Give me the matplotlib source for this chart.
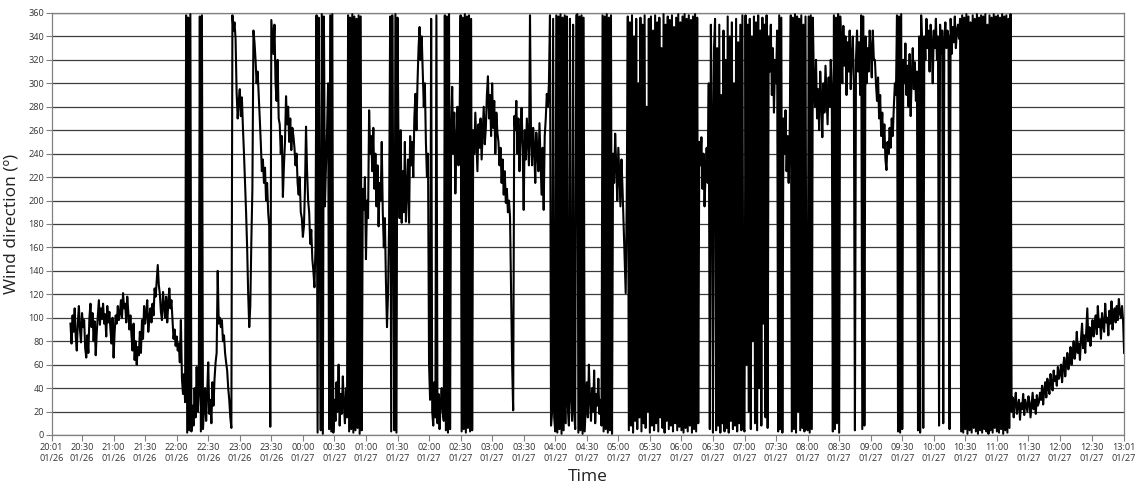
import numpy as np
import pandas as pd
import matplotlib
matplotlib.use("Agg")
import matplotlib.pyplot as plt
import matplotlib.dates as mdates

plt.rcParams['font.family'] = ['Open Sans', 'DejaVu Sans']

# wind direction (deg), one reading per minute, grouped by hour
h20 = [95, 78, 102, 88, 108, 84, 72, 96, 110, 90, 79, 104, 92,
       98, 74, 66, 85, 70, 100, 112, 92, 104, 80, 97, 68, 88, 101, 115,
       94, 108, 99, 112, 95, 103, 84, 110, 96, 105, 90, 78, 100]
h21 = [66, 88, 102, 95, 110, 98, 104, 115, 100, 121, 108, 112, 96, 118, 105, 90, 102,
       85, 72, 95, 64, 80, 60, 75, 68, 88, 70, 98, 82,
       110, 95, 104, 115, 88, 100, 108, 96, 112, 102,
       125, 118, 132, 145, 128, 120,
       105, 98, 122, 110, 100, 118, 96, 112, 125, 108,
       115, 98, 82, 90, 76]
h22 = [84, 72, 78, 62, 98, 48, 35, 52, 28,
       358, 2, 356, 4, 359, 3,
       25, 8, 40, 15, 58, 20, 35,
       357, 3, 358, 5,
       22, 40, 12, 35, 62, 18, 30, 10, 45, 25,
       48, 62, 70, 140, 95, 100,
       92, 98, 80, 85, 70, 62, 55, 40, 30, 15, 6,
       358, 345, 352, 338, 292, 270, 285]
h23 = [295, 272, 288,
       262, 240, 215, 190, 160, 120, 92, 110, 165, 210,
       345, 335, 320, 300, 310, 291, 270, 249, 225,
       235, 215, 228, 200, 215, 190, 178, 7, 354,
       340, 325, 350, 300, 285, 320, 270,
       265, 240, 255, 203, 230, 250,
       289, 265, 280, 250, 270, 243, 262, 255,
       245, 230, 240, 215, 205, 220, 190, 185]
h00 = [169, 178, 210, 263, 225, 200,
       190, 163, 175, 150, 140, 126, 160,
       358, 2, 356, 190, 4, 359, 1, 357,
       195, 230, 260, 300, 5, 358, 3, 359, 2,
       30, 12, 45, 20, 60, 8, 35, 18, 50, 25, 10, 40, 15,
       358, 3, 356, 5, 359, 2, 357, 4, 355, 6, 358, 1, 357, 4,
       210, 192, 220]
h01 = [150, 200, 185,
       277, 240, 255, 225, 262, 210, 240, 195, 230, 178, 215, 200, 250, 190,
       160, 185, 130, 92, 121, 180,
       357, 3, 358, 200, 4, 359, 2, 356, 240, 185, 260, 181, 225, 190, 250, 182,
       210, 235, 181, 255,
       230, 250, 220, 270, 291, 260, 300, 330,
       348, 320, 340, 310, 280, 300, 250, 220, 240]
h02 = [60, 30, 355, 20, 8, 45, 15, 358, 10, 35, 5, 25,
       40, 20, 12,
       358, 4, 357, 2, 359, 5,
       260, 297, 240, 275, 206, 250, 280, 230, 265,
       358, 3, 356, 5, 359, 2, 357, 6, 358, 3, 355, 4,
       260, 240, 275, 250, 225, 265, 245, 270, 235, 258, 280, 248, 262, 290,
       306, 270, 290, 255]
h03 = [300, 262, 285, 240, 275, 258,
       250, 230, 245, 215, 235, 205, 225, 198, 210, 190, 200, 186,
       120, 60, 21, 272,
       260, 285, 240, 270, 225, 255, 279, 245, 192, 260, 235, 270, 250, 230, 358,
       250, 230, 262, 245, 215, 258, 240, 225, 266, 235, 205, 245, 192, 255,
       270, 291, 280, 300,
       358, 8, 20, 355, 15]
h04 = [3, 358, 2, 357, 5, 359, 1, 356, 4, 358,
       10, 357, 25, 8, 355, 30, 12, 350, 20, 5, 358,
       359, 2, 357, 4, 358, 1, 356, 3,
       25, 45, 15, 60, 30, 12, 40, 20, 55, 10, 35, 25, 48, 18, 30, 8,
       358, 3, 357, 5, 359, 2, 356, 4, 358, 1,
       240, 215, 257, 230, 200]
h05 = [245, 220, 195, 235, 210, 180, 150, 121, 200,
       357, 4, 352, 8, 358, 2, 340, 12, 355, 5,
       300, 15, 356, 3, 350, 10, 358, 6, 280, 20,
       355, 2, 357, 8, 345, 4, 358, 10, 352, 3,
       356, 15, 330, 6, 359, 2, 350, 12, 357, 5,
       354, 8, 358, 3, 348, 10, 356, 4, 359, 7, 352]
h06 = [4, 357, 2, 359, 6, 355, 3, 358, 8, 354, 2, 357, 5, 359, 3, 356, 10,
       250, 230, 254, 210, 240, 195, 225, 245, 215,
       300, 5, 350, 270, 2, 330,
       355, 4, 330, 8, 350, 2, 290, 10, 345, 3,
       320, 6, 357, 2, 340, 12, 352, 5, 300, 8,
       355, 3, 335, 10, 350, 4, 358, 6]
h07 = [3, 358, 60, 350, 20, 355, 5, 340, 80, 357,
       10, 352, 4, 358, 40, 345, 8, 356, 95, 350, 15, 358, 6,
       340, 310, 350, 290, 330, 275, 320, 300, 345,
       3, 358, 5, 356, 2,
       270, 240, 277, 225, 255, 215, 260,
       358, 3, 356, 5, 359, 2, 357, 20, 355, 4, 358, 6, 350, 3, 357, 8]
h08 = [4, 357, 2, 358, 5, 356,
       300, 280, 320, 270, 295, 260, 310, 285, 254, 300, 275, 315, 290, 265, 305, 280, 320, 295,
       3, 358, 5, 356, 10, 359, 2, 357,
       330, 300, 349, 315, 340, 290, 335, 310, 345, 295,
       325, 340, 300, 4, 320, 345, 310, 335, 290, 358,
       5, 357, 8, 340, 300, 330, 310, 345]
h09 = [330, 305, 345, 320,
       320, 300, 285, 305, 270, 290, 255, 275, 245, 265, 235, 226, 250, 240, 262, 245, 270, 255,
       280, 300, 290,
       358, 3, 357, 2, 359, 5,
       320, 300, 334, 290, 315, 280, 325, 272, 305, 330, 295, 318, 285, 310,
       4, 340, 2, 358, 330, 6,
       340, 320, 355, 330, 345, 310, 350, 335, 300]
h10 = [345, 330, 355, 320, 340, 8, 350, 325, 345, 10,
       338, 352, 330, 345, 340, 5, 355, 325, 348, 335,
       357, 330, 345, 350, 338, 355,
       3, 358, 2, 356, 5, 359, 1, 357, 4, 352,
       2, 358, 6, 355, 3, 359, 1, 356, 4, 358,
       2, 357, 5, 359, 3, 350, 1, 358, 4, 356,
       2, 359, 6, 357]
h11 = [3, 358, 2, 356, 5, 359, 1, 357, 4, 358, 2, 355, 6, 359,
       20, 32, 15, 28, 36, 18, 25, 30, 13, 27, 22, 35, 17, 30,
       25, 20, 33, 28, 15, 26, 36, 22, 30, 18, 34, 25, 28, 36,
       30, 42, 26, 38, 45, 32, 48, 40, 35, 52, 44, 38, 55, 46, 50, 42, 58, 48]
h12 = [52, 60, 45, 58, 66, 50, 62, 70, 56, 64,
       75, 60, 68, 80, 65, 72, 88, 70, 78, 64,
       82, 95, 74, 85, 70, 90, 108, 80, 92, 76,
       88, 98, 84, 95, 102, 86, 110, 92, 98, 82,
       104, 94, 88, 112, 96, 100, 85, 106, 95, 114,
       90, 102, 108, 96, 110, 98, 116, 104, 100, 110]
h13 = [98, 70]

block_starts = ["2017-01-26 20:19", "2017-01-26 21:00", "2017-01-26 22:00",
                "2017-01-26 23:00", "2017-01-27 00:00", "2017-01-27 01:00",
                "2017-01-27 02:00", "2017-01-27 03:00", "2017-01-27 04:00",
                "2017-01-27 05:00", "2017-01-27 06:00", "2017-01-27 07:00",
                "2017-01-27 08:00", "2017-01-27 09:00", "2017-01-27 10:00",
                "2017-01-27 11:00", "2017-01-27 12:00", "2017-01-27 13:00"]
blocks = [h20, h21, h22, h23, h00, h01, h02, h03, h04, h05,
          h06, h07, h08, h09, h10, h11, h12, h13]

t_start = pd.Timestamp("2017-01-26 20:01")
t_end = pd.Timestamp("2017-01-27 13:01")

times = []
values = []
for start, vals in zip(block_starts, blocks):
    t0 = pd.Timestamp(start)
    times.extend(t0 + pd.Timedelta(minutes=i) for i in range(len(vals)))
    values.extend(vals)
times = np.array(times, dtype="datetime64[s]")
values = np.array(values, dtype=float)

fig = plt.figure(figsize=(11.38, 4.91), dpi=100)
ax = fig.add_axes([0.0453, 0.1141, 0.9425, 0.8595])

# thick-ish line so the 0/360 wrap-around stretches fill in like the original
ax.plot(times, values, color="black", lw=1.5, zorder=3)

ax.set_ylim(0, 360)
ax.set_yticks(np.arange(0, 361, 20))
ax.set_xlim(t_start.to_datetime64(), t_end.to_datetime64())

xt = [t_start] + list(pd.date_range("2017-01-26 20:30", "2017-01-27 12:30", freq="30min")) + [t_end]
ax.set_xticks([t.to_datetime64() for t in xt])
ax.xaxis.set_major_formatter(mdates.DateFormatter("%H:%M\n%m/%d"))

ax.yaxis.grid(True, color="#3c3c3c", lw=0.9, zorder=1)
ax.set_axisbelow(True)
for s in ax.spines.values():
    s.set_color("#808080")
    s.set_linewidth(0.9)

ax.tick_params(axis="both", direction="out", length=4, width=0.8, color="#808080",
               labelsize=6.6, labelcolor="#333333", pad=1.5)
for lab in ax.get_xticklabels():
    lab.set_linespacing(1.35)

ax.set_ylabel("Wind direction (º)", fontsize=12.5, color="#222222", labelpad=6)
ax.set_xlabel("Time", fontsize=12.5, color="#222222", labelpad=4)

fig.savefig("out.png", dpi=100)
